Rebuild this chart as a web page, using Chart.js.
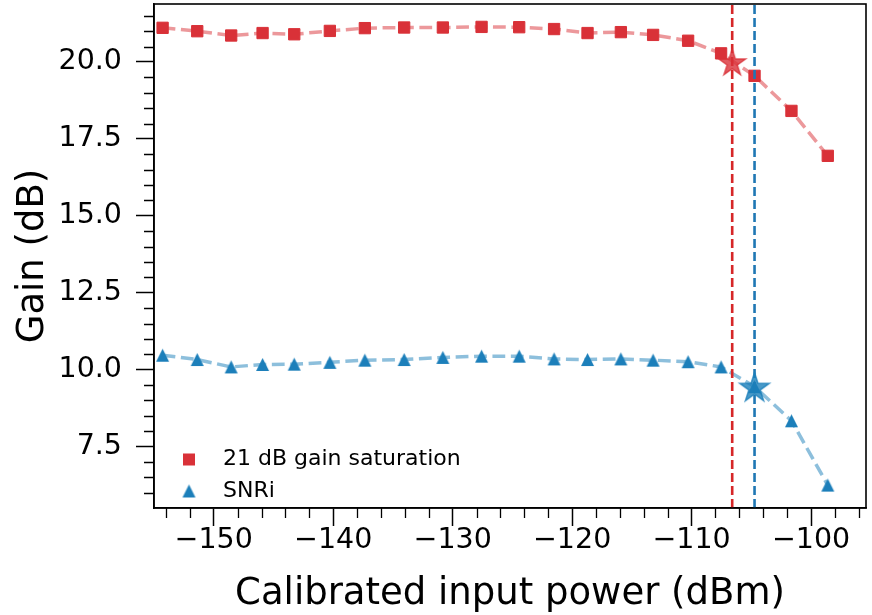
<!DOCTYPE html>
<html><head><meta charset="utf-8">
<script src="https://cdn.jsdelivr.net/npm/chart.js@4.4.1/dist/chart.umd.min.js"></script>
<style>html,body{margin:0;padding:0;background:#fff}#wrap{width:872px;height:615px}</style>
</head><body><div id="wrap"><canvas id="c" width="872" height="615"></canvas></div>
<script>
// ---- data ----
const inputPower = [-154.28, -151.38, -148.54, -145.91, -143.26, -140.28, -137.35, -134.06, -130.82, -127.58,
                    -124.43, -121.51, -118.71, -115.92, -113.22, -110.29, -107.53, -104.73, -101.64, -98.60];
const gainSaturation = [21.11, 21.00, 20.86, 20.94, 20.90, 21.01, 21.10, 21.12, 21.12, 21.14,
                        21.13, 21.07, 20.94, 20.97, 20.88, 20.69, 20.28, 19.55, 18.41, 16.95];
const snri = [10.47, 10.33, 10.09, 10.17, 10.18, 10.24, 10.31, 10.33, 10.40, 10.44,
              10.44, 10.35, 10.33, 10.35, 10.31, 10.26, 10.09, 9.45, 8.34, 6.25];
const seriesLabels = ['21 dB gain saturation', 'SNRi'];
const starPower = [-106.6, -104.73];
const starGain = [20.0, 9.45];
const vlinePower = [-106.6, -104.73];
const xLimits = [-155.0, -95.4];
const yLimits = [5.506, 21.884];
const xMajorTicks = [-150, -140, -130, -120, -110, -100];
const xMinorTicks = [-154, -152, -148, -146, -144, -142, -138, -136, -134, -132, -128, -126, -124, -122,
                     -118, -116, -114, -112, -108, -106, -104, -102, -98, -96];
const yMajorTicks = [7.5, 10.0, 12.5, 15.0, 17.5, 20.0];
const yMinorTicks = [6.0, 6.5, 7.0, 8.0, 8.5, 9.0, 9.5, 10.5, 11.0, 11.5, 12.0, 13.0, 13.5, 14.0, 14.5,
                     15.5, 16.0, 16.5, 17.0, 18.0, 18.5, 19.0, 19.5, 20.5, 21.0, 21.5];

// ---- styles ----
const RED = 'rgb(217,49,56)';
const RED_LINE = 'rgba(217,49,56,0.5)';
const RED_V = 'rgb(214,39,40)';
const BLUE = 'rgb(28,127,186)';
const BLUE_LINE = 'rgba(28,127,186,0.5)';
const BLUE_V = 'rgb(31,119,180)';
const FONT = '"DejaVu Sans"';

function triangleImg(color, size) {
  const c = document.createElement('canvas');
  c.width = size + 2; c.height = size + 2;
  const g = c.getContext('2d');
  g.fillStyle = color;
  g.beginPath();
  g.moveTo(c.width / 2, 1);
  g.lineTo(c.width - 1, c.height - 1);
  g.lineTo(1, c.height - 1);
  g.closePath();
  g.fill();
  return c;
}
function starImg(color, R) {
  const s = Math.ceil(2 * R + 4);
  const c = document.createElement('canvas');
  c.width = s; c.height = s;
  const g = c.getContext('2d');
  const cx = s / 2, cy = s / 2 + R * 0.095;
  const r = R * 0.382;
  g.beginPath();
  for (let i = 0; i < 10; i++) {
    const rad = (i % 2 === 0) ? R : r;
    const a = -Math.PI / 2 + i * Math.PI / 5;
    const px = cx + rad * Math.cos(a), py = cy + rad * Math.sin(a);
    if (i === 0) g.moveTo(px, py); else g.lineTo(px, py);
  }
  g.closePath();
  g.globalAlpha = 0.8;
  g.fillStyle = color;
  g.fill();
  g.lineWidth = 1.5;
  g.strokeStyle = color;
  g.stroke();
  return c;
}
const triBlue = triangleImg(BLUE, 13);
const starRed = starImg(RED, 14);
const starBlue = starImg(BLUE, 15.5);

const pts = (xs, ys) => xs.map((x, i) => ({x: x, y: ys[i]}));

const minorTicksPlugin = {
  id: 'minorTicks',
  afterDraw(chart) {
    const ctx = chart.ctx, xs = chart.scales.x, ys = chart.scales.y, a = chart.chartArea;
    ctx.save();
    ctx.strokeStyle = '#000';
    ctx.lineWidth = 1.3;
    ctx.beginPath();
    xMinorTicks.forEach(v => { const p = Math.round(xs.getPixelForValue(v)) + 0.5; ctx.moveTo(p, a.bottom); ctx.lineTo(p, a.bottom + 10); });
    yMinorTicks.forEach(v => { const p = Math.round(ys.getPixelForValue(v)) + 0.5; ctx.moveTo(a.left, p); ctx.lineTo(a.left - 10, p); });
    ctx.stroke();
    ctx.lineWidth = 1.6;
    ctx.strokeRect(a.left, a.top, a.right - a.left, a.bottom - a.top);
    const lx = a.left + 35, tx = a.left + 69;
    const rows = [a.bottom - 48.5, a.bottom - 17];
    ctx.fillStyle = RED;
    ctx.fillRect(lx - 6, rows[0] - 6, 12, 12);
    ctx.drawImage(triBlue, lx - triBlue.width / 2, rows[1] - triBlue.height / 2);
    ctx.fillStyle = '#000';
    ctx.font = '22px ' + FONT;
    ctx.textBaseline = 'middle';
    ctx.textAlign = 'left';
    ctx.fillText(seriesLabels[0], tx, rows[0]);
    ctx.fillText(seriesLabels[1], tx, rows[1]);
    ctx.restore();
  }
};

new Chart(document.getElementById('c'), {
  type: 'scatter',
  data: {
    datasets: [
      { label: 'star1', data: [{x: starPower[0], y: starGain[0]}], pointStyle: starRed, pointRadius: 14, order: 0 },
      { label: 'star2', data: [{x: starPower[1], y: starGain[1]}], pointStyle: starBlue, pointRadius: 15, order: 0 },
      { label: 'v1', data: [{x: vlinePower[0], y: yLimits[0]}, {x: vlinePower[0], y: yLimits[1]}], showLine: true,
        borderColor: RED_V, borderWidth: 2.6, borderDash: [9, 4], pointRadius: 0, order: 1 },
      { label: 'v2', data: [{x: vlinePower[1], y: yLimits[0]}, {x: vlinePower[1], y: yLimits[1]}], showLine: true,
        borderColor: BLUE_V, borderWidth: 2.6, borderDash: [9, 4], pointRadius: 0, order: 1 },
      { label: seriesLabels[0], data: pts(inputPower, gainSaturation), showLine: true,
        borderColor: RED_LINE, borderWidth: 3.5, borderDash: [12.8, 5.6],
        pointStyle: 'rect', pointRadius: 8, pointBackgroundColor: RED, pointBorderColor: RED, pointBorderWidth: 1, order: 2 },
      { label: seriesLabels[1], data: pts(inputPower, snri), showLine: true,
        borderColor: BLUE_LINE, borderWidth: 3.5, borderDash: [12.8, 5.6],
        pointStyle: triBlue, pointRadius: 7, order: 2 }
    ]
  },
  options: {
    responsive: false,
    animation: false,
    devicePixelRatio: 1,
    layout: { autoPadding: false, padding: { top: 4, right: 6, left: 0, bottom: 0 } },
    plugins: { legend: { display: false }, tooltip: { enabled: false } },
    scales: {
      x: {
        type: 'linear', min: xLimits[0], max: xLimits[1],
        afterBuildTicks: s => { s.ticks = xMajorTicks.map(v => ({value: v})); },
        afterFit: s => { s.height = 107; s.paddingLeft = 0; s.paddingRight = 0; },
        ticks: { callback: v => (v < 0 ? '\u2212' : '') + Math.abs(v), font: { family: FONT, size: 28.5 }, color: '#000', padding: -3, maxRotation: 0, autoSkip: false },
        grid: { drawOnChartArea: false, drawTicks: true, tickLength: 18, tickWidth: 1.5, tickColor: '#000' },
        border: { color: '#000', width: 1.6 },
        title: { display: true, text: 'Calibrated input power (dBm)', font: { family: FONT, size: 37, lineHeight: 1.12 }, color: '#000', padding: { top: 0, bottom: 0 } }
      },
      y: {
        type: 'linear', min: yLimits[0], max: yLimits[1],
        afterBuildTicks: s => { s.ticks = yMajorTicks.map(v => ({value: v})); },
        afterFit: s => { s.width = 154; s.paddingTop = 0; s.paddingBottom = 0; },
        ticks: { callback: v => v.toFixed(1), font: { family: FONT, size: 28.5 }, color: '#000', padding: 14, autoSkip: false },
        grid: { drawOnChartArea: false, drawTicks: true, tickLength: 18, tickWidth: 1.5, tickColor: '#000' },
        border: { color: '#000', width: 1.6 },
        title: { display: true, text: 'Gain (dB)', font: { family: FONT, size: 37 }, color: '#000', padding: { top: 11, bottom: 0 } }
      }
    }
  },
  plugins: [minorTicksPlugin]
});
</script></body></html>
